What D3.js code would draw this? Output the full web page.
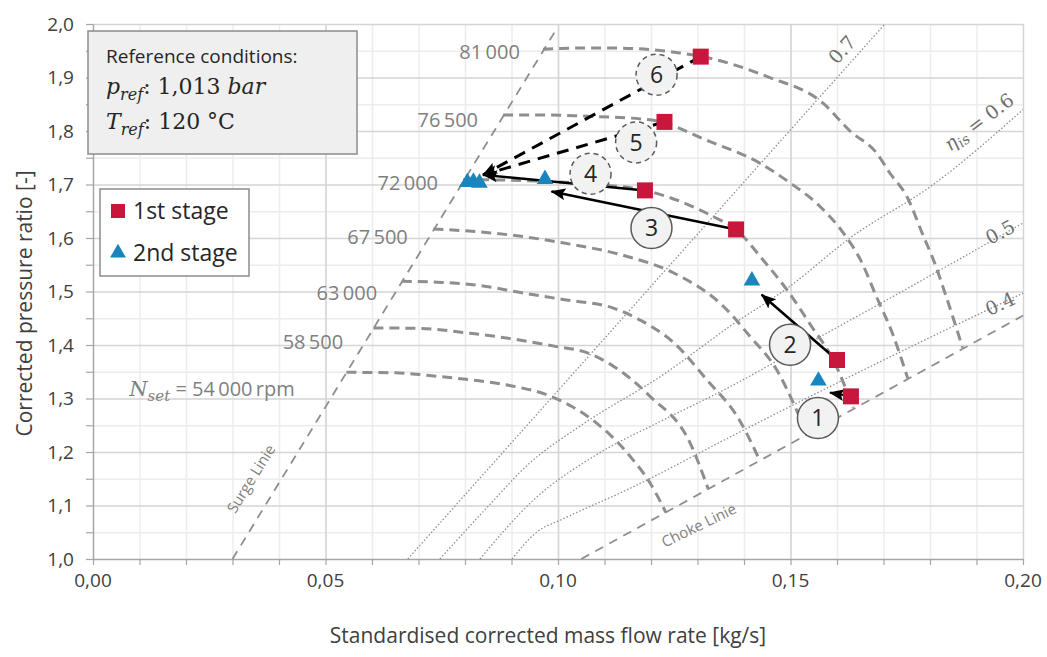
<!DOCTYPE html>
<html lang="en">
<head>
<meta charset="UTF-8">
<title>Compressor map – two stage operation</title>
<script src="https://d3js.org/d3.v7.min.js"></script>
<style>
  body { margin: 0; background: #fff; }
  svg { display: block; font-family: "Open Sans", sans-serif; }
  .grid-minor line { stroke: #ececec; stroke-width: 1.5; }
  .grid-major line { stroke: #d5d5d5; stroke-width: 1.5; }
  .grid-minor path, .grid-major path { display: none; }
  .tick-axis path { stroke: #a6a6a6; stroke-width: 1.5; }
  .tick-axis line { stroke: #a6a6a6; stroke-width: 1.2; }
  .tick-label { font-size: 19px; fill: #404040; }
  .axis-title { font-size: 21px; fill: #404040; }
  .speed { fill: none; stroke: #8e8e8e; stroke-width: 3; stroke-dasharray: 10 6; }
  .limit { fill: none; stroke: #8e8e8e; stroke-width: 1.8; stroke-dasharray: 9 7; }
  .eta { fill: none; stroke: #8e8e8e; stroke-width: 1.3; stroke-dasharray: 1.5 2; }
  .speed-label { font-size: 20px; fill: #7f7f7f; }
  .serif { font-family: "DejaVu Serif", serif; }
</style>
</head>
<body>
<svg width="1047" height="657"></svg>
<script>
// axis ticks
const xTickValues = [0, 0.05, 0.10, 0.15, 0.20];
const xTickLabels = ["0,00", "0,05", "0,10", "0,15", "0,20"];
const yTickValues = [1.0, 1.1, 1.2, 1.3, 1.4, 1.5, 1.6, 1.7, 1.8, 1.9, 2.0];
const yTickLabels = ["1,0", "1,1", "1,2", "1,3", "1,4", "1,5", "1,6", "1,7", "1,8", "1,9", "2,0"];

// speed lines [mass flow, pressure ratio]
const speedNames = ["54\u2009000", "58\u2009500", "63\u2009000", "67\u2009500", "72\u2009000", "76\u2009500", "81\u2009000"];
const n54000 = [[0.0545,1.349],[0.065,1.348],[0.0746,1.341],[0.083,1.333],[0.0904,1.323],[0.0976,1.307],[0.103,1.285],[0.1083,1.254],[0.1155,1.192],[0.1198,1.142],[0.1232,1.087]];
const n58500 = [[0.0603,1.432],[0.070,1.431],[0.0811,1.422],[0.092,1.409],[0.0997,1.397],[0.1054,1.388],[0.112,1.360],[0.1198,1.304],[0.1284,1.217],[0.1323,1.131]];
const n63000 = [[0.0664,1.519],[0.075,1.517],[0.0832,1.511],[0.092,1.498],[0.1011,1.485],[0.1119,1.469],[0.118,1.445],[0.1248,1.405],[0.132,1.335],[0.139,1.260],[0.1434,1.184]];
const n67500 = [[0.0732,1.617],[0.085,1.610],[0.093,1.602],[0.101,1.591],[0.1147,1.566],[0.1248,1.535],[0.1356,1.472],[0.1413,1.416],[0.147,1.354],[0.1506,1.292],[0.1535,1.233]];
const n72000 = [[0.0796,1.709],[0.090,1.708],[0.097,1.706],[0.108,1.700],[0.1187,1.689],[0.1334,1.640],[0.1383,1.616],[0.1440,1.560],[0.1495,1.500],[0.1545,1.435],[0.1592,1.372],[0.1635,1.283]];
const n76500 = [[0.0882,1.830],[0.097,1.830],[0.105,1.828],[0.1198,1.821],[0.1327,1.780],[0.1434,1.740],[0.1499,1.703],[0.1556,1.665],[0.1614,1.609],[0.1650,1.560],[0.1685,1.490],[0.1720,1.420],[0.1752,1.338]];
const n81000 = [[0.0968,1.953],[0.105,1.955],[0.112,1.955],[0.1262,1.946],[0.1327,1.936],[0.1449,1.902],[0.157,1.852],[0.1628,1.800],[0.1685,1.759],[0.1714,1.721],[0.175,1.678],[0.1786,1.603],[0.1807,1.560],[0.1835,1.490],[0.187,1.395]];
const speedLines = [n54000, n58500, n63000, n67500, n72000, n76500, n81000];
const speedLabelPos = [[0.0434,1.318],[0.0538,1.406],[0.0611,1.498],[0.0677,1.601],[0.0742,1.703],[0.0828,1.821],[0.0918,1.948]];

// surge / choke limits
const surgeLine = [[0.030,1.0],[0.100,1.995]];
const chokeLine = [[0.105,1.0],[0.200,1.455]];

// isentropic efficiency lines
const etaNames = ["0.4", "0.5", "0.6", "0.7"];
const eta04 = [[0.0901,1.0],[0.0954,1.05],[0.1011,1.075],[0.115,1.13],[0.137,1.228],[0.1499,1.285],[0.175,1.393],[0.200,1.497]];
const eta05 = [[0.0832,1.0],[0.0947,1.11],[0.1083,1.195],[0.1227,1.26],[0.137,1.322],[0.1542,1.405],[0.175,1.505],[0.200,1.628]];
const eta06 = [[0.0746,1.0],[0.0846,1.095],[0.094,1.18],[0.105,1.25],[0.1227,1.345],[0.137,1.435],[0.1499,1.51],[0.1628,1.60],[0.1807,1.70],[0.200,1.84]];
const eta07 = [[0.0677,1.0],[0.1703,2.0]];
const etaLines = [eta04, eta05, eta06, eta07];
const etaLabelPos = [[0.1951,1.477],[0.1951,1.611],[0.1905,1.817],[0.1611,1.952]];

// measured operating points
const stage1 = [[0.163,1.304],[0.160,1.372],[0.1383,1.616],[0.1187,1.689],[0.1229,1.817],[0.1307,1.939]];
const stage2 = [[0.156,1.335],[0.1417,1.522],[0.0972,1.712],[0.0805,1.706],[0.0818,1.707],[0.0831,1.705]];
const stepEnds = [[0.1585,1.311],[0.1438,1.494],[0.0986,1.687],[0.0839,1.718],[0.0839,1.718],[0.0839,1.718]];
const stepLabels = ["1", "2", "3", "4", "5", "6"];
const stepCircles = [[0.1559,1.2636],[0.1499,1.4006],[0.1201,1.6187],[0.1070,1.7202],[0.1168,1.7787],[0.1212,1.9052]];

const svg = d3.select("svg");
const margin = { top: 24, left: 93 };
const width = 930, height = 535;

const x = d3.scaleLinear().domain([0, 0.2]).range([0, width]);
const y = d3.scaleLinear().domain([1, 2]).range([height, 0]);

const g = svg.append("g").attr("transform", `translate(${margin.left},${margin.top})`);

// grid
g.append("g").attr("class", "grid-minor")
  .attr("transform", `translate(0,${height})`)
  .call(d3.axisBottom(x).tickValues(d3.range(0.01, 0.2, 0.01)).tickSize(-height).tickFormat(""));
g.append("g").attr("class", "grid-minor")
  .call(d3.axisLeft(y).tickValues(d3.range(1.05, 2, 0.1)).tickSize(-width).tickFormat(""));
g.append("g").attr("class", "grid-major")
  .attr("transform", `translate(0,${height})`)
  .call(d3.axisBottom(x).tickValues(xTickValues.slice(1)).tickSize(-height).tickFormat(""));
g.append("g").attr("class", "grid-major")
  .call(d3.axisLeft(y).tickValues(yTickValues.slice(1)).tickSize(-width).tickFormat(""));

// axes
g.append("g").attr("class", "tick-axis")
  .attr("transform", `translate(0,${height})`)
  .call(d3.axisBottom(x).tickValues(d3.range(0, 0.2001, 0.01)).tickSize(6).tickSizeOuter(0).tickFormat(""));
g.append("g").attr("class", "tick-axis")
  .call(d3.axisLeft(y).tickValues(d3.range(1, 2.001, 0.05)).tickSize(7).tickSizeOuter(0).tickFormat(""));

g.selectAll(".xlab").data(xTickValues).enter().append("text")
  .attr("class", "tick-label")
  .attr("x", d => x(d)).attr("y", height + 21)
  .attr("text-anchor", "middle").attr("dy", "0.35em")
  .text((d, i) => xTickLabels[i]);
g.selectAll(".ylab").data(yTickValues).enter().append("text")
  .attr("class", "tick-label")
  .attr("x", -19).attr("y", d => y(d))
  .attr("text-anchor", "end").attr("dy", "0.35em")
  .text((d, i) => yTickLabels[i]);

svg.append("text").attr("class", "axis-title")
  .attr("x", margin.left + width / 2 - 10).attr("y", 636)
  .attr("text-anchor", "middle").attr("dy", "0.35em")
  .text("Standardised corrected mass flow rate [kg/s]");
svg.append("text").attr("class", "axis-title")
  .attr("transform", `translate(25,${margin.top + height / 2 + 12}) rotate(-90)`)
  .attr("text-anchor", "middle").attr("dy", "0.35em")
  .text("Corrected pressure ratio [-]");

const line = d3.line().x(d => x(d[0])).y(d => y(d[1]));
const curve = d3.line().x(d => x(d[0])).y(d => y(d[1])).curve(d3.curveMonotoneX);

// efficiency lines
g.selectAll(".eta").data(etaLines).enter().append("path")
  .attr("class", "eta").attr("d", curve);

// surge and choke
g.append("path").attr("class", "limit").attr("d", line(surgeLine));
g.append("path").attr("class", "limit").attr("d", line(chokeLine));

g.append("text")
  .attr("transform", `translate(${x(0.0340)},${y(1.150)}) rotate(-58)`)
  .attr("text-anchor", "middle").attr("dy", "0.35em")
  .style("font-size", "15px").style("fill", "#808080")
  .text("Surge Linie");
g.append("text")
  .attr("transform", `translate(${x(0.1303)},${y(1.063)}) rotate(-26)`)
  .attr("text-anchor", "middle").attr("dy", "0.35em")
  .style("font-size", "15px").style("fill", "#808080")
  .text("Choke Linie");

// speed lines
g.selectAll(".speed").data(speedLines).enter().append("path")
  .attr("class", "speed").attr("d", curve);

const sl = g.selectAll(".speed-label").data(speedNames).enter().append("text")
  .attr("class", "speed-label")
  .attr("x", (d, i) => x(speedLabelPos[i][0]))
  .attr("y", (d, i) => y(speedLabelPos[i][1]))
  .attr("text-anchor", "end").attr("dy", "0.35em");
sl.each(function (d, i) {
  const t = d3.select(this);
  if (i === 0) {
    t.append("tspan").attr("class", "serif").style("font-style", "italic").style("font-size", "21px").text("N");
    t.append("tspan").attr("class", "serif").style("font-style", "italic")
      .style("font-size", "15px").attr("dy", 5).text("set");
    t.append("tspan").attr("dy", -5).text(" = " + d + "\u2009rpm");
  } else {
    t.text(d);
  }
});

// efficiency labels
const etaRot = [-25, -28, -37, -48];
const el = g.selectAll(".eta-label").data(etaNames).enter().append("text")
  .attr("class", "serif")
  .attr("transform", (d, i) => `translate(${x(etaLabelPos[i][0])},${y(etaLabelPos[i][1])}) rotate(${etaRot[i]})`)
  .attr("text-anchor", "middle").attr("dy", "0.35em")
  .style("font-size", "19px").style("fill", "#6f6f6f");
el.each(function (d, i) {
  const t = d3.select(this);
  if (i === 2) {
    t.append("tspan").style("font-style", "italic").text("\u03B7");
    t.append("tspan").style("font-style", "italic").style("font-size", "14px").attr("dy", 4).text("is");
    t.append("tspan").attr("dy", -4).text(" = " + d);
  } else {
    t.text(d);
  }
});

// arrows
svg.append("defs").append("marker")
  .attr("id", "head").attr("markerUnits", "userSpaceOnUse")
  .attr("markerWidth", 16).attr("markerHeight", 12)
  .attr("refX", 14).attr("refY", 6).attr("orient", "auto")
  .append("path").attr("d", "M0,0 L15,6 L0,12 L3,6 Z").attr("fill", "#000");

g.selectAll(".step").data(stage1).enter().append("line")
  .attr("x1", d => x(d[0])).attr("y1", d => y(d[1]))
  .attr("x2", (d, i) => x(stepEnds[i][0])).attr("y2", (d, i) => y(stepEnds[i][1]))
  .attr("stroke", "#000").attr("stroke-width", (d, i) => i >= 4 ? 3 : 2.5)
  .attr("stroke-dasharray", (d, i) => i >= 4 ? "12 8" : null)
  .attr("marker-end", "url(#head)");

// markers
g.selectAll(".s1").data(stage1).enter().append("rect")
  .attr("x", d => x(d[0]) - 8).attr("y", d => y(d[1]) - 8)
  .attr("width", 16).attr("height", 16).attr("fill", "#c8173c");
const tri = d3.symbol().type(d3.symbolTriangle).size(120);
g.selectAll(".s2").data(stage2).enter().append("path")
  .attr("d", tri)
  .attr("transform", d => `translate(${x(d[0])},${y(d[1]) + 1})`)
  .attr("fill", "#1a84bd");

// step numbers
const c = g.selectAll(".step-no").data(stepLabels).enter().append("g")
  .attr("transform", (d, i) => `translate(${x(stepCircles[i][0])},${y(stepCircles[i][1])})`);
c.append("circle").attr("r", 20.5)
  .attr("fill", "#f2f2f2").attr("stroke", "#5a5a5a").attr("stroke-width", 1.5)
  .attr("stroke-dasharray", (d, i) => i >= 3 ? "5 4" : null);
c.append("text").attr("text-anchor", "middle").attr("dy", "0.36em")
  .style("font-size", "23px").style("fill", "#262626")
  .text(d => d);

// reference conditions box
const box = svg.append("g");
box.append("rect").attr("x", 88).attr("y", 31).attr("width", 269).attr("height", 123)
  .attr("fill", "#efefef").attr("stroke", "#8c8c8c").attr("stroke-width", 1.5);
box.append("text").attr("x", 106).attr("y", 63)
  .style("font-size", "19px").style("fill", "#262626")
  .text("Reference conditions:");
const p = box.append("text").attr("class", "serif").attr("x", 106).attr("y", 94)
  .style("font-size", "22px").style("fill", "#262626");
p.append("tspan").style("font-style", "italic").text("p");
p.append("tspan").style("font-style", "italic").style("font-size", "16px").attr("dy", 6).text("ref");
p.append("tspan").attr("dy", -6).text(": 1,013 ");
p.append("tspan").style("font-style", "italic").text("bar");
const tr = box.append("text").attr("class", "serif").attr("x", 106).attr("y", 129)
  .style("font-size", "22px").style("fill", "#262626");
tr.append("tspan").style("font-style", "italic").text("T");
tr.append("tspan").style("font-style", "italic").style("font-size", "16px").attr("dy", 6).text("ref");
tr.append("tspan").attr("dy", -6).text(": 120 \u00B0C");

// legend
const legendNames = ["1st stage", "2nd stage"];
const lg = svg.append("g");
lg.append("rect").attr("x", 100).attr("y", 189).attr("width", 149).attr("height", 87)
  .attr("fill", "#fff").attr("stroke", "#8c8c8c").attr("stroke-width", 1.5);
const li = lg.selectAll(".li").data(legendNames).enter().append("g")
  .attr("transform", (d, i) => `translate(118,${211 + i * 42})`);
li.filter((d, i) => i === 0).append("rect")
  .attr("x", -7).attr("y", -7).attr("width", 14).attr("height", 14).attr("fill", "#c8173c");
li.filter((d, i) => i === 1).append("path")
  .attr("d", d3.symbol().type(d3.symbolTriangle).size(110)).attr("fill", "#1a84bd");
li.append("text").attr("x", 15).attr("dy", "0.35em")
  .style("font-size", "23px").style("fill", "#262626")
  .text(d => d);
</script>
</body>
</html>
